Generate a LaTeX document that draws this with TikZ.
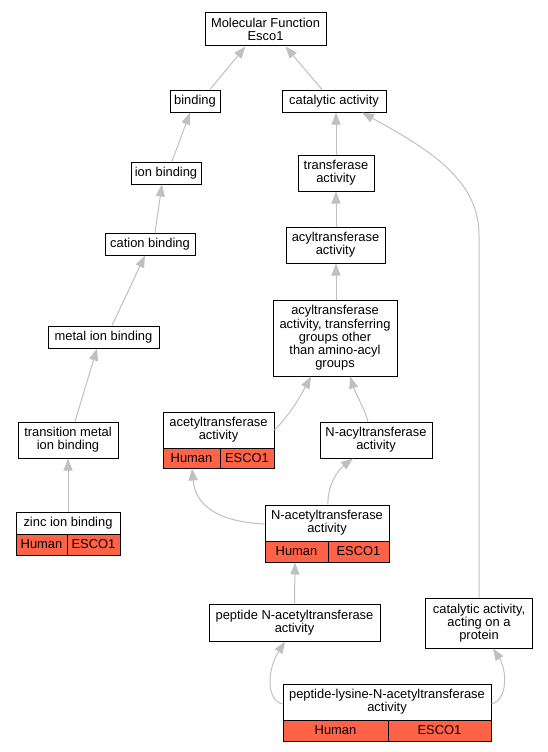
\documentclass[tikz,border=0pt]{standalone}
\usepackage{fontspec}
\setmainfont{Liberation Sans}
\usetikzlibrary{arrows.meta}
\definecolor{annot}{HTML}{FF6347}
\definecolor{edgegray}{HTML}{C0C0C0}
\tikzset{
  box/.style={draw=black, line width=1pt, fill=white, align=center, inner sep=0pt,
    font=\fontsize{12.9}{13.3}\selectfont},
  cell/.style={box, fill=annot},
  edge/.style={draw=edgegray, line width=1pt, -{Triangle[length=12pt,width=9pt]}},
}
\begin{document}
\begin{tikzpicture}[x=1pt,y=-1pt]
\useasboundingbox (0,0) rectangle (548,752);
% nodes
\node[box, minimum width=121, minimum height=33] (mf) at (265.5,29.5) {Molecular Function\\Esco1};
\node[box, minimum width=50, minimum height=22] (bind) at (195,101) {binding};
\node[box, minimum width=104, minimum height=22] (cat) at (334,101) {catalytic activity};
\node[box, minimum width=70, minimum height=22] (ion) at (166,173) {ion binding};
\node[box, minimum width=76, minimum height=36] (trans) at (336,173) {transferase\\activity};
\node[box, minimum width=90, minimum height=22] (cation) at (150,244) {cation binding};
\node[box, minimum width=99, minimum height=36] (acyl) at (335.5,245) {acyltransferase\\activity};
\node[box, minimum width=111, minimum height=22] (metal) at (103.5,337) {metal ion binding};
\node[box, minimum width=124, minimum height=76] (acylgrp) at (335,338) {acyltransferase\\activity, transferring\\groups other\\than amino-acyl\\groups};
\node[box, minimum width=100, minimum height=36] (trmetal) at (68,440) {transition metal\\ion binding};
\node[box, minimum width=112, minimum height=36] (nacyl) at (376,440) {N-acyltransferase\\activity};
% acetyltransferase
\node[box, minimum width=111, minimum height=36] (acetT) at (218.5,430) {acetyltransferase\\activity};
\node[cell, minimum width=57, minimum height=20] (acetH) at (191.5,458) {Human};
\node[cell, minimum width=54, minimum height=20] (acetE) at (247,458) {ESCO1};
% zinc
\node[box, minimum width=104, minimum height=22] (zincT) at (68,523) {zinc ion binding};
\node[cell, minimum width=51, minimum height=21] (zincH) at (41.5,544.5) {Human};
\node[cell, minimum width=53, minimum height=21] (zincE) at (93.5,544.5) {ESCO1};
% N-acetyltransferase
\node[box, minimum width=124, minimum height=36] (nacetT) at (327,523) {N-acetyltransferase\\activity};
\node[cell, minimum width=63, minimum height=21] (nacetH) at (296.5,551.5) {Human};
\node[cell, minimum width=61, minimum height=21] (nacetE) at (358.5,551.5) {ESCO1};
% peptide N-acetyltransferase
\node[box, minimum width=171, minimum height=37] (pepn) at (294.5,622.5) {peptide N-acetyltransferase\\activity};
\node[box, minimum width=107, minimum height=50] (catprot) at (479,623) {catalytic activity,\\acting on a\\protein};
% peptide-lysine
\node[box, minimum width=208, minimum height=36] (peplT) at (387,702) {peptide-lysine-N-acetyltransferase\\activity};
\node[cell, minimum width=105, minimum height=21] (peplH) at (335.5,730.5) {Human};
\node[cell, minimum width=103, minimum height=21] (peplE) at (439.5,730.5) {ESCO1};
% edges
\draw[edge] ([xshift=15pt]bind.north) -- ([xshift=-20pt]mf.south);
\draw[edge] ([xshift=-12pt]cat.north) -- ([xshift=20pt]mf.south);
\draw[edge] ([xshift=6pt]ion.north) -- ([xshift=-5pt]bind.south);
\draw[edge] (trans.north) -- ([xshift=2pt]cat.south);
\draw[edge] ([xshift=5pt]cation.north) -- ([xshift=-4pt]ion.south);
\draw[edge] ([xshift=0.5pt]acyl.north) -- (trans.south);
\draw[edge] ([xshift=8.5pt]metal.north) -- ([xshift=-5pt]cation.south);
\draw[edge] ([xshift=1pt]acylgrp.north) -- ([xshift=0.5pt]acyl.south);
\draw[edge] ([xshift=7pt]trmetal.north) -- ([xshift=-6.5pt]metal.south);
\draw[edge] (acetT.east) .. controls (290,415) and (301,395) .. ([xshift=-24pt]acylgrp.south);
\draw[edge] ([xshift=-8pt]nacyl.north) .. controls (365,410) and (355,392) .. ([xshift=15pt]acylgrp.south);
\draw[edge] (zincT.north) -- (trmetal.south);
\draw[edge] ([yshift=-1pt]nacetT.west) .. controls (225,522) and (196,510) .. ([xshift=0.5pt]acetH.south);
\draw[edge] ([xshift=1pt]nacetT.north) .. controls (327,486) and (338,470) .. ([xshift=-23pt]nacyl.south);
\draw[edge] (pepn.north) -- ([xshift=-1.5pt]nacetH.south);
\draw[edge] ([xshift=0pt]catprot.north) -- (479,235) .. controls (479,180) and (430,150) .. ([xshift=28pt]cat.south);
\draw[edge] ([yshift=-2pt]peplT.west) .. controls (266,700) and (267,670) .. ([xshift=-9.5pt]pepn.south);
\draw[edge] ([yshift=-2pt]peplT.east) .. controls (508,700) and (507,670) .. ([xshift=14pt]catprot.south);
\end{tikzpicture}
\end{document}
